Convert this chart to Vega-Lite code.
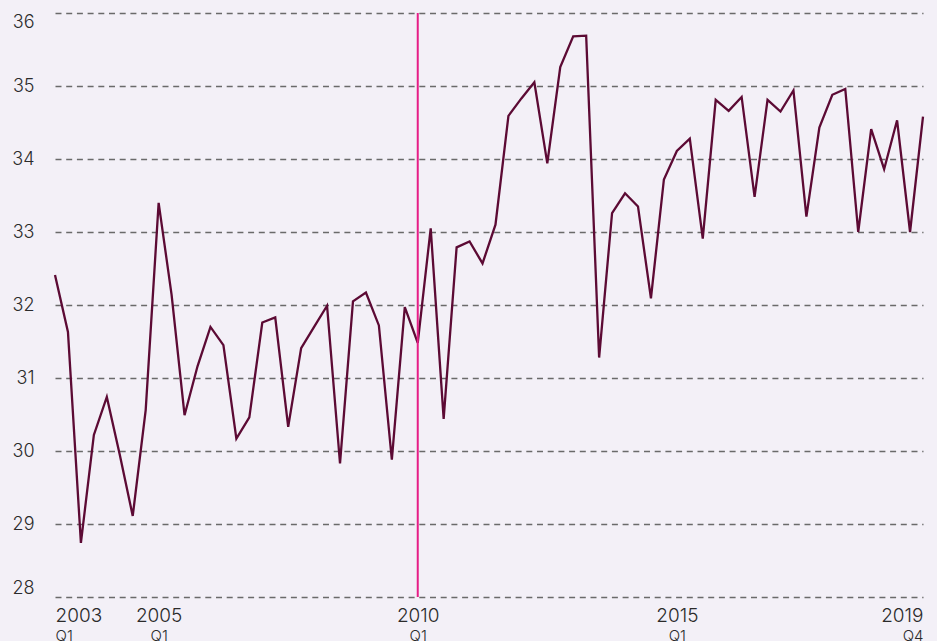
{
  "$schema": "https://vega.github.io/schema/vega-lite/v6.json",
  "width": 868,
  "height": 584,
  "autosize": {"type": "none"},
  "padding": {"left": 55, "top": 13, "right": 14, "bottom": 44},
  "background": "#f3f0f7",
  "config": {
    "view": {"stroke": null},
    "font": "Inter",
    "axis": {"labelFont": "Inter", "labelColor": "#2b2b2b", "labelFontWeight": 300}
  },
  "datasets": {
    "series": [
      {"q": "2003 Q1", "v": 32.41}, {"q": "2003 Q2", "v": 31.63}, {"q": "2003 Q3", "v": 28.74}, {"q": "2003 Q4", "v": 30.22},
      {"q": "2004 Q1", "v": 30.74}, {"q": "2004 Q2", "v": 29.95}, {"q": "2004 Q3", "v": 29.11}, {"q": "2004 Q4", "v": 30.56},
      {"q": "2005 Q1", "v": 33.40}, {"q": "2005 Q2", "v": 32.14}, {"q": "2005 Q3", "v": 30.49}, {"q": "2005 Q4", "v": 31.16},
      {"q": "2006 Q1", "v": 31.70}, {"q": "2006 Q2", "v": 31.45}, {"q": "2006 Q3", "v": 30.17}, {"q": "2006 Q4", "v": 30.46},
      {"q": "2007 Q1", "v": 31.76}, {"q": "2007 Q2", "v": 31.83}, {"q": "2007 Q3", "v": 30.33}, {"q": "2007 Q4", "v": 31.41},
      {"q": "2008 Q1", "v": 31.70}, {"q": "2008 Q2", "v": 31.99}, {"q": "2008 Q3", "v": 29.83}, {"q": "2008 Q4", "v": 32.05},
      {"q": "2009 Q1", "v": 32.17}, {"q": "2009 Q2", "v": 31.72}, {"q": "2009 Q3", "v": 29.88}, {"q": "2009 Q4", "v": 31.97},
      {"q": "2010 Q1", "v": 31.48}, {"q": "2010 Q2", "v": 33.05}, {"q": "2010 Q3", "v": 30.44}, {"q": "2010 Q4", "v": 32.79},
      {"q": "2011 Q1", "v": 32.87}, {"q": "2011 Q2", "v": 32.57}, {"q": "2011 Q3", "v": 33.10}, {"q": "2011 Q4", "v": 34.59},
      {"q": "2012 Q1", "v": 34.83}, {"q": "2012 Q2", "v": 35.05}, {"q": "2012 Q3", "v": 33.94}, {"q": "2012 Q4", "v": 35.26},
      {"q": "2013 Q1", "v": 35.68}, {"q": "2013 Q2", "v": 35.69}, {"q": "2013 Q3", "v": 31.28}, {"q": "2013 Q4", "v": 33.26},
      {"q": "2014 Q1", "v": 33.53}, {"q": "2014 Q2", "v": 33.35}, {"q": "2014 Q3", "v": 32.09}, {"q": "2014 Q4", "v": 33.72},
      {"q": "2015 Q1", "v": 34.11}, {"q": "2015 Q2", "v": 34.28}, {"q": "2015 Q3", "v": 32.91}, {"q": "2015 Q4", "v": 34.81},
      {"q": "2016 Q1", "v": 34.66}, {"q": "2016 Q2", "v": 34.85}, {"q": "2016 Q3", "v": 33.48}, {"q": "2016 Q4", "v": 34.81},
      {"q": "2017 Q1", "v": 34.65}, {"q": "2017 Q2", "v": 34.94}, {"q": "2017 Q3", "v": 33.21}, {"q": "2017 Q4", "v": 34.43},
      {"q": "2018 Q1", "v": 34.88}, {"q": "2018 Q2", "v": 34.96}, {"q": "2018 Q3", "v": 33.00}, {"q": "2018 Q4", "v": 34.41},
      {"q": "2019 Q1", "v": 33.86}, {"q": "2019 Q2", "v": 34.53}, {"q": "2019 Q3", "v": 33.00}, {"q": "2019 Q4", "v": 34.58}
    ],
    "marker": [{"q": "2010 Q1"}]
  },
  "layer": [
    {
      "data": {"name": "series"},
      "mark": {"type": "line", "color": "#5c0a34", "strokeWidth": 2.3},
      "encoding": {
        "x": {
          "field": "q", "type": "ordinal",
          "scale": {"type": "point", "padding": 0},
          "axis": {
            "orient": "bottom",
            "title": null,
            "values": ["2003 Q1", "2005 Q1", "2010 Q1", "2015 Q1", "2019 Q4"],
            "labelExpr": "split(datum.value, ' ')[0]",
            "labelFlush": true,
            "labelAngle": 0,
            "labelFontSize": 19,
            "labelPadding": 9,
            "labelBaseline": "top",
            "ticks": false,
            "domain": false,
            "grid": false
          }
        },
        "y": {
          "field": "v", "type": "quantitative",
          "scale": {"domain": [28, 36], "nice": false, "zero": false},
          "axis": {
            "title": null,
            "values": [28, 29, 30, 31, 32, 33, 34, 35, 36],
            "labelFlush": true,
            "labelFontSize": 18,
            "labelPadding": 21,
            "ticks": false,
            "domain": false,
            "grid": true,
            "gridColor": "#6a6a6a",
            "gridDash": [6, 4.7],
            "gridWidth": 1.4
          }
        }
      }
    },
    {
      "data": {"name": "marker"},
      "mark": {"type": "rule", "color": "#e61e87", "strokeWidth": 2},
      "encoding": {
        "x": {
          "field": "q", "type": "ordinal",
          "axis": {
            "orient": "bottom",
            "title": null,
            "values": ["2003 Q1", "2005 Q1", "2010 Q1", "2015 Q1", "2019 Q4"],
            "labelExpr": "split(datum.value, ' ')[1]",
            "labelFlush": true,
            "labelAngle": 0,
            "labelFontSize": 15,
            "labelPadding": 31,
            "labelBaseline": "top",
            "ticks": false,
            "domain": false,
            "grid": false
          }
        }
      }
    }
  ],
  "resolve": {"axis": {"x": "independent"}}
}
